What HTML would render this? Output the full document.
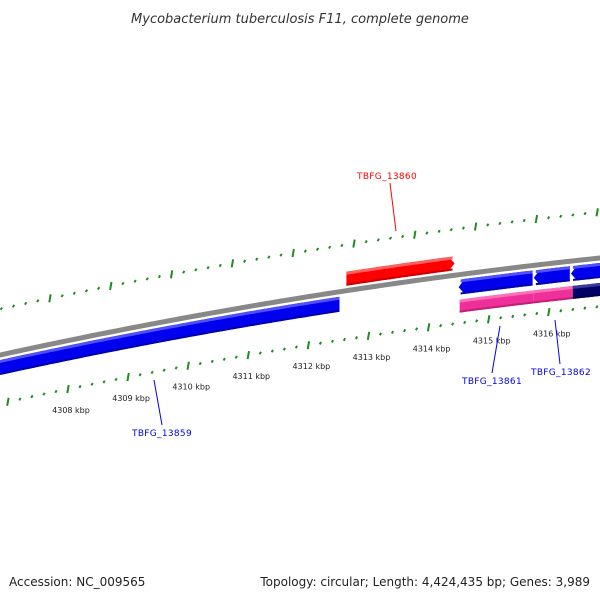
<!DOCTYPE html>
<html><head><meta charset="utf-8"><style>
html,body{margin:0;padding:0;background:#fff;width:600px;height:600px;overflow:hidden}
text{font-family:"DejaVu Sans","Liberation Sans",sans-serif}
</style></head><body>
<svg id="map" width="600" height="600" xmlns="http://www.w3.org/2000/svg">
<text x="300" y="23" text-anchor="middle" font-size="13" font-style="italic" fill="#333">Mycobacterium tuberculosis F11, complete genome</text>
<g id="rulers"></g>
<g id="features"></g>
<g id="labels"></g>
<text x="9" y="586" font-size="12" fill="#222">Accession: NC_009565</text>
<text x="590" y="586" text-anchor="end" font-size="12" fill="#222">Topology: circular; Length: 4,424,435 bp; Genes: 3,989</text>
</svg>
<script>
const tickKbp = [4307,4308,4309,4310,4311,4312,4313,4314,4315,4316,4317];
const tickLabels = ["4307 kbp","4308 kbp","4309 kbp","4310 kbp","4311 kbp","4312 kbp","4313 kbp","4314 kbp","4315 kbp","4316 kbp","4317 kbp"];
const geneNames = ["TBFG_13859","TBFG_13860","TBFG_13861","TBFG_13862","TBFG_13863","TBFG_13861-cog","TBFG_13862-cog","TBFG_13863-cog"];
const geneStart = [4306800,4312633,4314500,4315750,4316370,4314517,4315750,4316400];
const geneEnd   = [4312517,4314433,4315730,4316350,4317000,4315750,4316400,4317000];
const geneStrand= [-1,1,-1,-1,-1,0,0,0];
const geneColor = ["#0000ee","#ff0000","#0000ee","#0000ee","#0000ee","#f0309a","#f0309a","#000066"];

const NS="http://www.w3.org/2000/svg";
function yb(x){const t=x/600;return (1-t)*(1-t)*355+2*t*(1-t)*289.5+t*t*258;}
function xL(bp){return 68+(bp-4308000)*0.0601;}
function xU(bp){return 50+(bp-4308000)*0.0608;}
function mk(tag,attrs,parent){const e=document.createElementNS(NS,tag);for(const k in attrs)e.setAttribute(k,attrs[k]);parent.appendChild(e);return e;}
const rul=document.getElementById('rulers'),feat=document.getElementById('features'),lab=document.getElementById('labels');

let d="";for(let x=-5;x<=605;x+=5){d+=(x===-5?"M":"L")+x+","+yb(x).toFixed(2);}
const bb=mk('path',{d:d,stroke:"#888",'stroke-width':5,fill:"none"},feat);



for(let k=4306;k<=4318;k++){
  for(let m=0;m<5;m++){
    const bp=k*1000+m*200;
    [[xU,-46],[xL,48.5]].forEach(([fx,off],ri)=>{
      const x=fx(bp);if(x<-5||x>605)return;
      const y=yb(x)+off;const L=m===0?4:1.2;
      const tk=mk('line',{x1:x+0.7,y1:y-L,x2:x-0.7,y2:y+L,stroke:"#1e8c1e",'stroke-width':2},rul);
      
      
    });
  }
}
tickKbp.forEach((k,i)=>{
  const x=xL(k*1000)+3;if(x<20||x>590)return;
  if(k<4308||k>4316)return;
  const t=mk('text',{x:x,y:yb(x)+73,'font-size':8,'text-anchor':'middle',fill:"#222"},rul);
  t.textContent=tickLabels[i];
  
  
});

function band(x1,x2,o1,o2,strand){
  const h=6;let top=[],bot=[];
  let a=x1,b=x2;
  if(strand===1)b=x2-h; if(strand===-1)a=x1+h;
  for(let x=a;x<=b;x+=4){top.push([x,yb(x)+o1]);bot.push([x,yb(x)+o2]);}
  top.push([b,yb(b)+o1]);bot.push([b,yb(b)+o2]);
  let pts=top.slice();
  if(strand===1)pts.push([x2,yb(x2)+(o1+o2)/2]);
  pts=pts.concat(bot.reverse());
  if(strand===-1)pts.push([x1,yb(x1)+(o1+o2)/2]);
  return pts.map(p=>p[0].toFixed(1)+","+p[1].toFixed(1)).join(" ");
}
function lighten(c){return c==="#ff0000"?"#ff6060":c==="#0000ee"?"#5050ff":c==="#f0309a"?"#ff70bb":"#3a3a99";}
function darken(c){return c==="#ff0000"?"#cc0000":c==="#0000ee"?"#0000b0":c==="#f0309a"?"#c02078":"#000044";}
geneStart.forEach((s,i)=>{
  const x1=xL(s),x2=xL(geneEnd[i]);const st=geneStrand[i];
  let o1,o2;
  if(st===1){o1=-19;o2=-5;}else if(st===-1){o1=5;o2=20;}else{o1=25;o2=38;}
  const g=mk('g',{},feat);
  
  
  mk('polygon',{points:band(x1,x2,o1,o2,st),fill:geneColor[i]},g);
  mk('polygon',{points:band(x1+(st===-1?2:0),x2-(st===1?2:0),o1,o1+3,0),fill:lighten(geneColor[i])},g);
  mk('polygon',{points:band(x1+(st===-1?2:0),x2-(st===1?2:0),o2-2,o2,0),fill:darken(geneColor[i])},g);
});

const labelText=["TBFG_13859","TBFG_13860","TBFG_13861","TBFG_13862"];
const labelColor=["#0000ee","#ff0000","#0000ee","#0000ee"];
const labelPos=[[162,436,162,425,154,380],[387,179,390,183,396,231],[492,384,492,373,500,326],[561,375,560,364,555,320]];
labelText.forEach((t,i)=>{
  const p=labelPos[i];
  const ln=mk('line',{x1:p[2],y1:p[3],x2:p[4],y2:p[5],stroke:labelColor[i],'stroke-width':1},lab);
  
  
  const tx=mk('text',{x:p[0],y:p[1],'font-size':9,'text-anchor':'middle',fill:labelColor[i],'letter-spacing':'0.3'},lab);
  tx.textContent=t;
  
  
});
</script>
</body></html>
